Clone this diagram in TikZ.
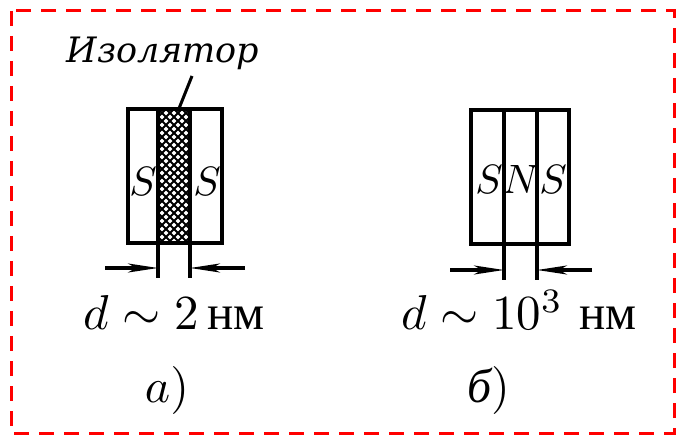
\documentclass[tikz,border=0pt]{standalone}
\usepackage{amsmath}
\usepackage{fontspec}
\newfontfamily\cyrfont{DejaVu Serif}
\newfontfamily\unitfont{Liberation Serif}
\usetikzlibrary{arrows.meta}

\begin{document}
\begin{tikzpicture}[x=1pt,y=-1pt,
  wall/.style={line width=3.2pt},
  dimarrow/.style={line width=3.2pt,-{Stealth[length=30pt,width=9pt,inset=8pt]}},
  pole/.style={inner sep=0pt,scale=4.1},
  value/.style={anchor=base,inner sep=0pt,scale=4.9},
  caption/.style={inner sep=0pt,scale=4.8}]
\useasboundingbox (0,0) rectangle (677,435);
% Frame
\draw[red,line width=3pt,dash pattern=on 15pt off 10pt] (11,11) rectangle (674,433);

% a) junction with insulator
\def\yt{109}\def\yb{243}\def\yl{278}
\begin{scope}
  \clip (158,\yt) rectangle (190,\yb);
  \foreach \k in {-25,...,25}{
    \draw[line width=2pt] (174+8*\k,\yt) -- ++(160,160);
    \draw[line width=2pt] (174+8*\k,\yt) -- ++(-160,160);
  }
\end{scope}
\draw[wall] (128,\yt) rectangle (222,\yb);
\draw[wall] (158,\yt) -- (158,\yl);
\draw[wall] (190,\yt) -- (190,\yl);
\node[pole] (sa1) at (143,181) {$S$};
\node[pole] (sa2) at (207,181) {$S$};
% label and leader
\node[anchor=base,inner sep=0pt,scale=3.5] (iso) at (163,63)
  {\cyrfont\itshape Изолятор};
\coordinate (isotail) at (192,76);
\coordinate (isotip) at (178,111);
\draw[line width=3pt] (isotail) -- (isotip);
% thickness arrows
\coordinate (aL) at (158,268);  \coordinate (aLout) at (105,268);
\coordinate (aR) at (190,268);  \coordinate (aRout) at (245,268);
\draw[dimarrow] (aLout) -- (aL);
\draw[dimarrow] (aRout) -- (aR);
\node[value] (da) at (174,330) {$d\sim2$\,{\unitfont нм}};
\node[caption] (capa) at (167,390) {$a)$};

% b) SNS junction
\def\yt{110}\def\yb{244}\def\yl{280}
\draw[wall] (471,\yt) rectangle (569,\yb);
\draw[wall] (504,\yt) -- (504,\yl);
\draw[wall] (537,\yt) -- (537,\yl);
\node[pole] (sb1) at (489,179) {$S$};
\node[pole] (nb) at (521,179) {$N$};
\node[pole] (sb2) at (553,179) {$S$};
% thickness arrows
\coordinate (bL) at (504,270);  \coordinate (bLout) at (450,270);
\coordinate (bR) at (537,270);  \coordinate (bRout) at (592,270);
\draw[dimarrow] (bLout) -- (bL);
\draw[dimarrow] (bRout) -- (bR);
\node[value] (db) at (519,330) {$d\sim10^3$\ {\unitfont нм}};
\node[caption] (capb) at (489,390) {{\unitfont\itshape б})};
\end{tikzpicture}
\end{document}
